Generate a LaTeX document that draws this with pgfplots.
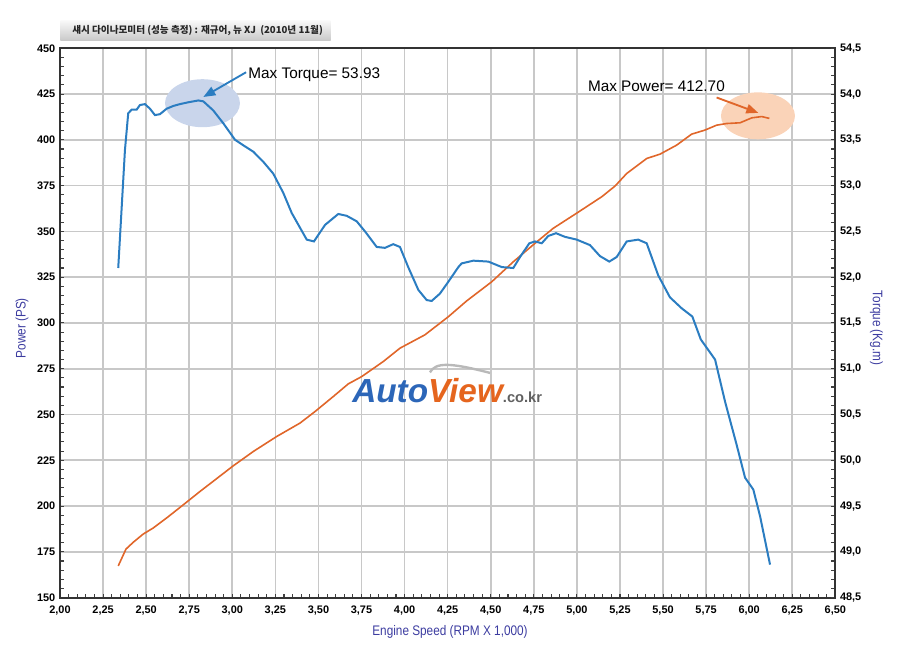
\documentclass[border=0pt]{standalone}
\usepackage{fontspec}
\setmainfont{Liberation Sans}
\newfontfamily\condf{Liberation Sans}[FakeStretch=0.85]
\newfontfamily\kr{Noto Sans CJK KR}
\usepackage{pgfplots}
\pgfplotsset{compat=1.18}
\usetikzlibrary{calc,arrows.meta,shadows}
\definecolor{tq}{HTML}{2B7DC1}
\definecolor{pw}{HTML}{E0662A}
\definecolor{lab}{HTML}{3C3CA0}
\definecolor{tqell}{HTML}{C9D5EB}
\definecolor{pwell}{HTML}{FAD3B8}
\definecolor{autoblue}{HTML}{2C66B8}
\definecolor{vieworange}{HTML}{E5651E}
\definecolor{gridc}{HTML}{C8C8C8}
\begin{document}
\begin{tikzpicture}
\begin{axis}[
  scale only axis, width=581.5pt, height=412pt,
  xmin=2, xmax=6.5, ymin=150, ymax=450,
  xtick={2,2.25,...,6.5}, ytick={150,175,...,450},
  minor x tick num=4, minor y tick num=4,
  xtick pos=left, ytick pos=left,
  tick align=inside, major tick length=3pt, minor tick length=3pt,
  tick style={draw=black!75, line width=0.8pt},
  xmajorgrids, ymajorgrids, major grid style={draw=gridc, line width=1.2pt},
  axis line style={draw=black!80, line width=1.6pt},
  /pgf/number format/assume math mode=true,
  tick label style={font=\bfseries\fontsize{8.2}{9}\selectfont},
  x tick label style={/pgf/number format/fixed, /pgf/number format/fixed zerofill, /pgf/number format/precision=2, /pgf/number format/use comma, yshift=-3pt},
  scaled ticks=false,
]
\coordinate (SW) at (rel axis cs:0,0);
\coordinate (NE) at (rel axis cs:1,1);
% highlight ellipses
\fill[tqell] (axis cs:2.827,420) ellipse [x radius=28.1pt, y radius=18pt];
\fill[pwell] (axis cs:6.051,413.1) ellipse [x radius=27.75pt, y radius=17.6pt];
% watermark logo
\draw[gray!55, line width=1.8pt] (axis cs:4.147,273.0) .. controls (axis cs:4.18,278.5) and (axis cs:4.26,278.5) .. (axis cs:4.496,272.7);
\node[anchor=base west, inner sep=0, font=\bfseries\itshape\fontsize{25}{25}\selectfont] at (axis cs:3.695,256.3)
  {\textcolor{autoblue}{Auto}\textcolor{vieworange}{View}\textcolor{gray!75!black}{\upshape\fontsize{11}{11}\selectfont .co.kr}};
% power
\addplot[pw, line width=1.2pt] coordinates {
(2.338,167.3) (2.383,176.5) (2.425,180.2) (2.483,184.7) (2.541,188.0)
(2.619,193.5) (2.716,200.7) (2.813,208.0) (2.871,212.2) (3.006,222.0)
(3.122,229.8) (3.258,238.0) (3.393,245.3) (3.480,251.6) (3.586,259.8)
(3.673,266.7) (3.751,270.7) (3.876,278.9) (3.973,286.2) (4.118,293.5)
(4.254,303.4) (4.360,312.0) (4.506,322.5) (4.631,333.4) (4.757,343.5)
(4.863,351.7) (5.008,360.5) (5.144,368.9) (5.221,374.7) (5.289,381.6)
(5.405,389.8) (5.483,392.2) (5.579,397.1) (5.666,403.1) (5.743,405.3)
(5.811,408.0) (5.869,408.9) (5.947,409.3) (6.015,412.0) (6.073,412.7)
(6.117,411.7)
};
% annotations
\draw[tq, line width=1.4pt, -{Triangle[length=9pt,width=7pt]}] (axis cs:3.080,436.9) -- (axis cs:2.832,423.4);
\node[anchor=west, inner sep=0, font=\fontsize{11.5}{13}\selectfont] at (axis cs:3.092,435.8) {Max Torque= 53.93};
\draw[pw, line width=1.4pt, -{Triangle[length=9pt,width=7pt]}] (axis cs:5.811,423.1) -- (axis cs:6.053,414.7);
\node[anchor=west, inner sep=0, font=\fontsize{11.5}{13}\selectfont] at (axis cs:5.063,429.0) {Max Power= 412.70};
\end{axis}
\begin{axis}[
  scale only axis, width=581.5pt, height=412pt,
  xmin=2, xmax=6.5, ymin=48.5, ymax=54.5,
  axis x line=none, axis y line*=right,
  ytick={48.5,49,...,54.5}, minor y tick num=4,
  tick align=inside, major tick length=3pt, minor tick length=3pt,
  tick style={draw=black!75, line width=0.8pt},
  axis line style={draw=black!80, line width=1.6pt},
  /pgf/number format/assume math mode=true,
  tick label style={font=\bfseries\fontsize{8.2}{9}\selectfont},
  y tick label style={/pgf/number format/fixed, /pgf/number format/fixed zerofill, /pgf/number format/precision=1, /pgf/number format/use comma},
  scaled ticks=false,
]
\addplot[tq, line width=1.5pt] coordinates {
(2.338,52.10) (2.377,53.39) (2.396,53.79) (2.416,53.83) (2.445,53.83)
(2.464,53.88) (2.493,53.89) (2.522,53.84) (2.551,53.77) (2.580,53.78)
(2.619,53.84) (2.658,53.87) (2.696,53.89) (2.745,53.91) (2.803,53.93)
(2.832,53.92) (2.890,53.82) (2.948,53.68) (3.016,53.50) (3.064,53.44)
(3.122,53.37) (3.180,53.26) (3.238,53.13) (3.296,52.92) (3.345,52.70)
(3.393,52.54) (3.432,52.41) (3.474,52.39) (3.538,52.57) (3.615,52.69)
(3.664,52.67) (3.722,52.61) (3.770,52.50) (3.838,52.33) (3.886,52.32)
(3.934,52.36) (3.973,52.33) (4.021,52.11) (4.080,51.86) (4.128,51.75)
(4.157,51.74) (4.205,51.82) (4.254,51.95) (4.312,52.11) (4.331,52.15)
(4.399,52.18) (4.486,52.17) (4.564,52.11) (4.631,52.10) (4.670,52.22)
(4.724,52.37) (4.757,52.39) (4.796,52.37) (4.834,52.45) (4.879,52.48)
(4.931,52.44) (4.999,52.41) (5.076,52.35) (5.134,52.23) (5.188,52.17)
(5.231,52.22) (5.289,52.39) (5.356,52.41) (5.405,52.37) (5.472,52.02)
(5.540,51.78) (5.608,51.66) (5.670,51.57) (5.719,51.32) (5.802,51.10)
(5.860,50.64) (5.927,50.17) (5.976,49.81) (6.024,49.68) (6.063,49.39)
(6.121,48.86)
};
\end{axis}
% title box
\node[anchor=north west, minimum width=202.5pt, minimum height=14.5pt, inner sep=0,
  top color=gray!6, bottom color=gray!42, draw=none,
  drop shadow={shadow xshift=0.8pt, shadow yshift=-0.8pt, opacity=0.25}] (T) at ($(SW|-NE)+(0,20.7pt)$) {};
\node[anchor=west, inner sep=0, font=\kr\bfseries\fontsize{7.2}{8}\selectfont, text=black!85] at ($(T.west)+(9pt,0)$)
  {섀시 다이나모미터 (성능 측정) : 재규어, 뉴 XJ\ \ (2010년 11월)};
% axis labels
\node[font=\condf\fontsize{10.4}{12}\selectfont, text=lab] at ($(SW)+(292.5pt,-25.5pt)$) {Engine Speed (RPM X 1,000)};
\node[rotate=90, font=\condf\fontsize{10.4}{12}\selectfont, text=lab] at ($(SW)+(-28.5pt,202pt)$) {Power (PS)};
\node[rotate=-90, font=\condf\fontsize{10.4}{12}\selectfont, text=lab] at ($(NE)+(30.75pt,-209.8pt)$) {Torque (Kg.m)};
% bounding box
\path ($(SW)+(-45pt,-46.7pt)$) rectangle ($(NE)+(48.5pt,36.2pt)$);
\end{tikzpicture}
\end{document}
